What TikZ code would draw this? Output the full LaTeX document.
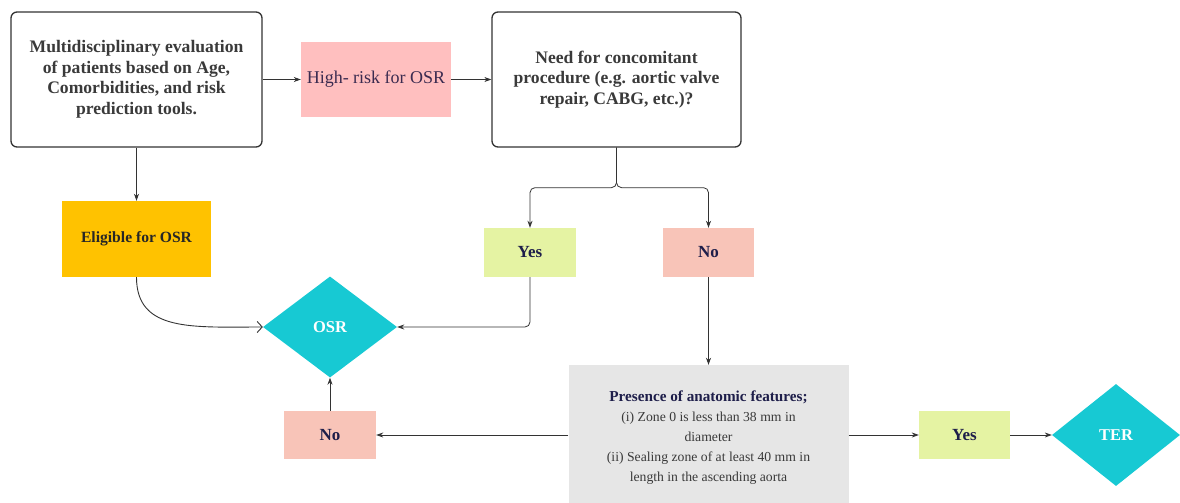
\documentclass[tikz,border=0pt]{standalone}
\usepackage{fontspec}
\setmainfont{Liberation Serif}[BoldFont={Liberation Serif Bold},ItalicFont={Liberation Serif Italic}]
\usetikzlibrary{shapes.geometric,arrows.meta}
\definecolor{lineC}{HTML}{333333}
\definecolor{txtC}{HTML}{3A3A3A}
\definecolor{navy}{HTML}{1E1E4A}
\definecolor{hrTxt}{HTML}{3B2B50}
\definecolor{hrC}{HTML}{FFBFBF}
\definecolor{noC}{HTML}{F8C4B8}
\definecolor{yesC}{HTML}{E5F3A3}
\definecolor{eligC}{HTML}{FFC200}
\definecolor{cyanC}{HTML}{17C9D3}
\definecolor{presC}{HTML}{E6E6E6}
\tikzset{
  roundbox/.style={draw=lineC, line width=1.3pt, rounded corners=6pt, fill=white, align=center, inner sep=0pt, text=txtC, font=\fontsize{17.6}{20.5}\selectfont\bfseries},
  flatbox/.style={align=center, inner sep=0pt, font=\fontsize{17}{20}\selectfont\bfseries, text=navy},
  dia/.style={diamond, fill=cyanC, inner sep=0pt, text=white, font=\fontsize{16.5}{20}\selectfont\bfseries},
  arr/.style={draw=lineC, line width=0.8pt, -{Stealth[length=7pt,width=5pt]}},
  openarr/.style={draw=lineC, line width=0.9pt, -{Straight Barb[length=5pt,width=11pt]}},
}
\begin{document}
\begin{tikzpicture}[x=1pt,y=-1pt]
\useasboundingbox (0,0) rectangle (1180,503);
% nodes
\node[roundbox, minimum width=251pt, minimum height=135pt] (A) at (136.5,79.5)
  {Multidisciplinary evaluation\\ of patients based on Age,\\ Comorbidities, and risk\\ prediction tools.};
\node[flatbox, fill=hrC, minimum width=150pt, minimum height=75pt, font=\fontsize{18}{20}\selectfont, text=hrTxt] (hr) at (376,79.5) {High- risk for OSR};
\node[roundbox, minimum width=249pt, minimum height=135pt] (B) at (616.5,79.5)
  {Need for concomitant\\ procedure (e.g. aortic valve\\ repair, CABG, etc.)?};
\node[flatbox, fill=eligC, minimum width=149pt, minimum height=76pt, text=black!85, font=\fontsize{15.6}{20}\selectfont\bfseries] (elig) at (136.5,239) {Eligible for OSR};
\node[flatbox, fill=yesC, minimum width=92pt, minimum height=49pt] (yes1) at (530,252.5) {Yes};
\node[flatbox, fill=noC, minimum width=91pt, minimum height=49pt] (no1) at (708.5,252.5) {No};
\node[dia, minimum width=134pt, minimum height=101pt] (osr) at (330,327) {OSR};
\node[flatbox, fill=presC, minimum width=280pt, minimum height=146pt, font=\fontsize{13.7}{20}\selectfont, text=txtC] (pres) at (708.5,438)
  {{\fontsize{15.2}{20}\selectfont\bfseries\color{navy}Presence of anatomic features;}\\ (i) Zone 0 is less than 38 mm in\\ diameter\\ (ii) Sealing zone of at least 40 mm in\\ length in the ascending aorta};
\node[flatbox, fill=noC, minimum width=92pt, minimum height=48pt] (no2) at (330,435) {No};
\node[flatbox, fill=yesC, minimum width=91pt, minimum height=48pt] (yes2) at (964.5,435) {Yes};
\node[dia, minimum width=128pt, minimum height=102pt] (ter) at (1116,435) {TER};
% connectors
\draw[arr] (A) -- (hr);
\draw[arr] (hr) -- (B);
\draw[arr] (A.south) -- (elig.north);
\draw[arr, rounded corners=5pt] (B.south) -- ++(0,40) -| (yes1.north);
\draw[arr, rounded corners=5pt] (B.south) -- ++(0,40) -| (no1.north);
\draw[openarr] (elig.south) .. controls +(0,55) and +(-70,0) .. (osr.west);
\draw[arr, rounded corners=5pt] (yes1.south) |- (osr.east);
\draw[arr] (no1.south) -- (pres.north);
\draw[arr] (pres.west |- no2.east) -- (no2.east);
\draw[arr] (no2.north) -- (osr.south);
\draw[arr] (pres.east |- yes2.west) -- (yes2.west);
\draw[arr] (yes2.east) -- (ter.west);
\end{tikzpicture}
\end{document}
